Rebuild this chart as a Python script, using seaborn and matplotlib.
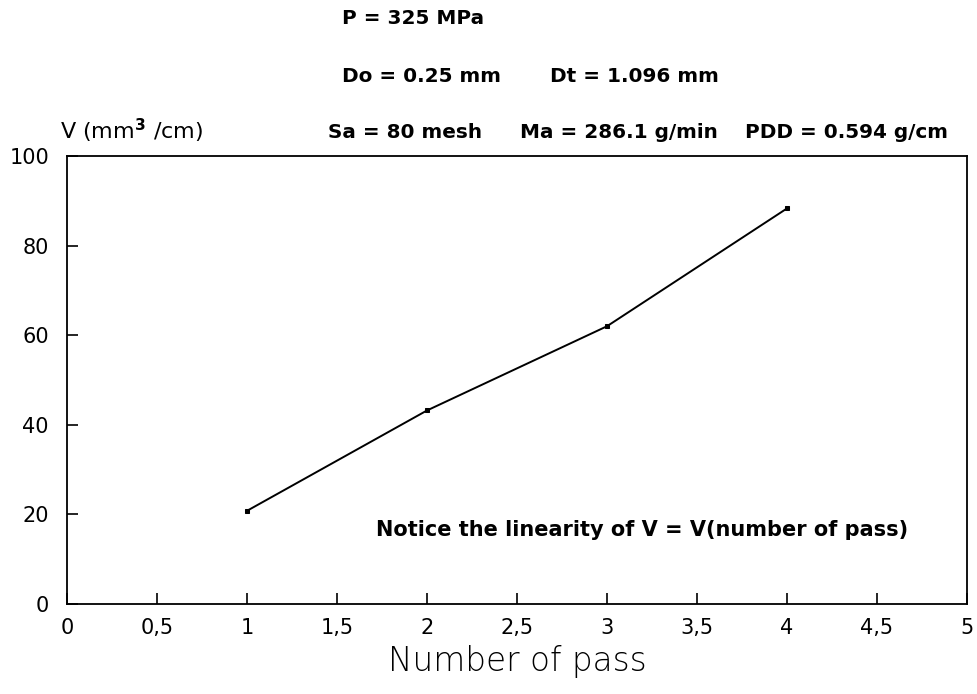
import matplotlib
matplotlib.use("Agg")
import matplotlib.pyplot as plt
import seaborn as sns
import pandas as pd

# Volume per unit length after each pass
passes = [1, 2, 3, 4]
volume = [20.8, 43.2, 62.0, 88.3]

x_ticks = [0, 0.5, 1, 1.5, 2, 2.5, 3, 3.5, 4, 4.5, 5]
x_tick_labels = ["0", "0,5", "1", "1,5", "2", "2,5", "3", "3,5", "4", "4,5", "5"]
y_ticks = [0, 20, 40, 60, 80, 100]

sns.set_style("ticks")
plt.rcParams["font.family"] = ["DejaVu Sans"]
plt.rcParams["mathtext.default"] = "regular"

df = pd.DataFrame({"passes": passes, "volume": volume})

W, H = 978, 694
fig = plt.figure(figsize=(W / 100, H / 100), dpi=100)
ax = fig.add_axes([67 / W, 1 - 604 / H, 900 / W, 448 / H])

sns.lineplot(data=df, x="passes", y="volume", ax=ax, color="black",
             linewidth=1.4, marker="s", markersize=3.5,
             markeredgecolor="black", markerfacecolor="black")

ax.set_xlim(0, 5)
ax.set_ylim(0, 100)
ax.set_xticks(x_ticks)
ax.set_xticklabels(x_tick_labels)
ax.set_yticks(y_ticks)
ax.tick_params(axis="both", direction="in", length=8, width=1.2,
               labelsize=15, colors="black")
ax.tick_params(axis="x", pad=10)
ax.tick_params(axis="y", pad=13)
for sp in ax.spines.values():
    sp.set_linewidth(1.3)
    sp.set_color("black")

ax.set_xlabel("Number of pass", fontsize=23.5, fontweight="light",
              color="black", labelpad=5)
ax.set_ylabel("")

bold = dict(fontsize=14.4, fontweight="bold", color="black", va="center", ha="left")


def put(x, y, s, **kw):
    fig.text(x / W, 1 - y / H, s, **kw)


put(342, 19, "P = 325 MPa", **bold)
put(342, 76, "Do = 0.25 mm", **bold)
put(550, 76, "Dt = 1.096 mm", **bold)
put(328, 132, "Sa = 80 mesh", **bold)
put(520, 132, "Ma = 286.1 g/min", **bold)
put(745, 132, "PDD = 0.594 g/cm", **bold)
put(60, 131, r"V (mm$^{\mathbf{3}}$ /cm)", va="center", ha="left",
    fontsize=16, color="black")
put(376, 530, "Notice the linearity of V = V(number of pass)",
    **dict(bold, fontsize=15.0))

fig.savefig("out.png", dpi=100)
